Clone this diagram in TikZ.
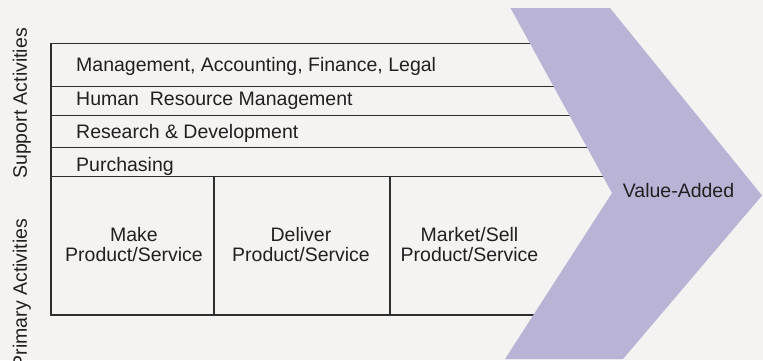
\documentclass[tikz,border=0pt]{standalone}
\usepackage{fontspec}
\setmainfont{Liberation Sans}
\definecolor{bgcol}{HTML}{F4F3F1}
\definecolor{chevcol}{HTML}{B9B3D6}
\definecolor{linecol}{HTML}{2E2E2E}
\definecolor{txtcol}{HTML}{231F20}
\begin{document}
\begin{tikzpicture}[x=1pt,y=-1pt,
  rule/.style={draw=linecol, line width=1.5pt},
  lbl/.style={font=\fontsize{19.5}{20}\selectfont, text=txtcol, inner sep=0pt},
  twoline/.style={lbl, align=center, anchor=center},
  chev/.style={fill=chevcol}]
\useasboundingbox (0,0) rectangle (763,360);
\clip (0,0) rectangle (763,360);
\fill[bgcol] (0,0) rectangle (763,360);
% rows
\draw[rule] (620,43.3) -- (51,43.3) -- (51,315) -- (620,315);
\draw[rule] (51,86.7) -- (620,86.7);
\draw[rule] (51,115.5) -- (620,115.5);
\draw[rule] (51,147.3) -- (620,147.3);
\draw[rule] (51,176.7) -- (620,176.7);
\draw[rule] (214,176.7) -- (214,315);
\draw[rule] (390,176.7) -- (390,315);
% chevron
\fill[chev] (510.5,8) -- (610,8) -- (762,195.5) -- (623,359) -- (505,359) -- (612,193) -- cycle;
% texts
\node[lbl, anchor=base west] (mgmt) at (76,71.7) {Management, Accounting, Finance, Legal};
\node[lbl, anchor=base west] (hrm) at (76,105) {Human\ \ Resource Management};
\node[lbl, anchor=base west] (rnd) at (76,138) {Research \& Development};
\node[lbl, anchor=base west] (purch) at (76,171.7) {Purchasing};
\node[twoline] (make) at (134,244.5) {Make\\Product/Service};
\node[twoline] (deliver) at (301,244.5) {Deliver\\Product/Service};
\node[twoline] (market) at (469.5,244.5) {Market/Sell\\Product/Service};
\node[lbl, anchor=base] (va) at (678.5,197.3) {Value-Added};
\node[lbl, rotate=90, anchor=base] (support) at (27,103.5) {Support Activities};
\node[lbl, rotate=90, anchor=base] (primary) at (27,293.5) {Primary Activities};
\end{tikzpicture}
\end{document}
